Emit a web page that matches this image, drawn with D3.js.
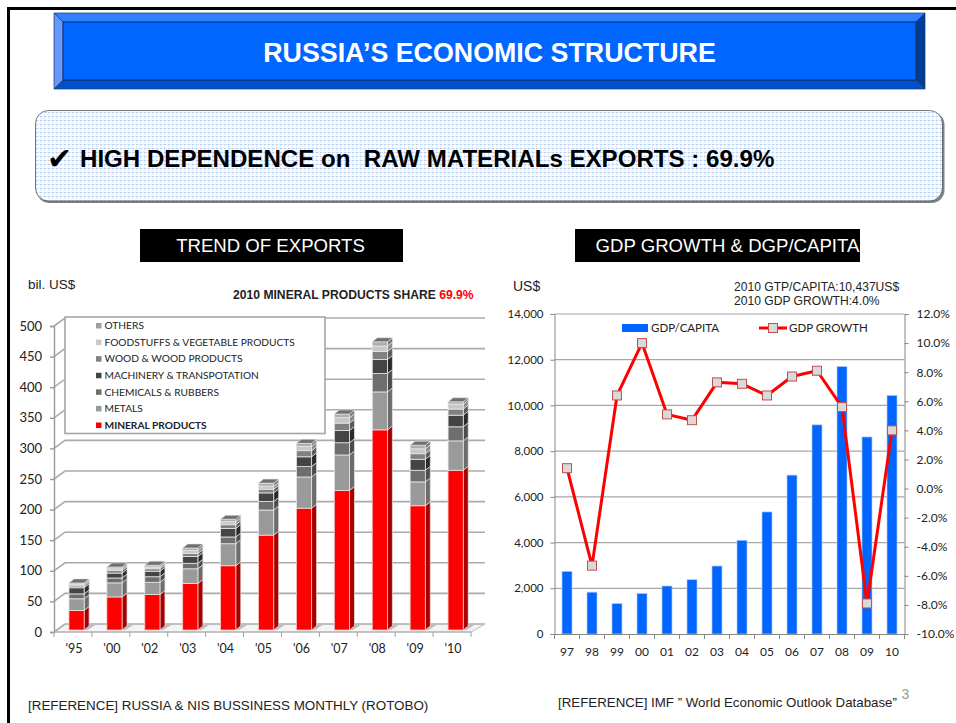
<!DOCTYPE html>
<html>
<head>
<meta charset="utf-8">
<script src="https://d3js.org/d3.v7.min.js"></script>
<style>
body { margin: 0; background: #fff; }
svg { display: block; }
text { font-family: "Liberation Sans", Arial, sans-serif; }
.cal text, text.cal { font-family: Lato, "Open Sans", sans-serif; }
</style>
</head>
<body>
<div id="chart"></div>
<script>
const svgWidth = 956;
const svgHeight = 723;

// left chart data (bil. US$)
const exportYears = ["'95", "'00", "'02", "'03", "'04", "'05", "'06", "'07", "'08", "'09", "'10"];
const mineral = [32, 54, 58, 76, 105, 155, 199, 228, 327, 203, 261];
const metals = [19, 23, 20, 24, 36, 41, 51, 58, 62, 39, 48];
const chemicals = [8, 8, 9, 9, 11, 14, 17, 20, 30, 19, 23];
const machinery = [10, 8, 9, 11, 14, 14, 16, 20, 23, 18, 19];
const wood = [3, 4, 4, 5, 6, 6, 10, 12, 13, 9, 10];
const food = [3, 3, 3, 5, 5, 5, 7, 9, 9, 8, 8];
const others = [2, 3, 3, 4, 4, 5, 5, 6, 7, 6, 4];
const exportTicks = [0, 50, 100, 150, 200, 250, 300, 350, 400, 450, 500];

const legendNames = ["OTHERS", "FOODSTUFFS & VEGETABLE PRODUCTS", "WOOD & WOOD PRODUCTS", "MACHINERY & TRANSPOTATION", "CHEMICALS & RUBBERS", "METALS", "MINERAL PRODUCTS"];

// right chart data
const gdpYears = ["97", "98", "99", "00", "01", "02", "03", "04", "05", "06", "07", "08", "09", "10"];
const gdpCapita = [2740, 1830, 1330, 1770, 2100, 2375, 2975, 4100, 5340, 6950, 9150, 11700, 8620, 10437];
const gdpGrowth = [1.4, -5.3, 6.4, 10.0, 5.1, 4.7, 7.3, 7.2, 6.4, 7.7, 8.1, 5.6, -7.9, 4.0];

const svg = d3.select("#chart").append("svg")
  .attr("width", svgWidth)
  .attr("height", svgHeight);

// dotted fill of the banner
const defs = svg.append("defs");
const dots = defs.append("pattern")
  .attr("id", "dots")
  .attr("width", 4).attr("height", 4)
  .attr("patternUnits", "userSpaceOnUse");
dots.append("rect").attr("width", 4).attr("height", 4).attr("fill", "#fbfdff");
dots.append("rect").attr("width", 4).attr("height", 1).attr("fill", "#e6effc");
dots.append("rect").attr("width", 1).attr("height", 4).attr("fill", "#e6effc");
dots.append("rect").attr("width", 2).attr("height", 1).attr("fill", "#b9d1f5");

// slide frame
svg.append("path").attr("d", "M8.5,723V8.5H956").attr("fill", "none").attr("stroke", "#000").attr("stroke-width", 3);

// title bar with bevel
const tb = { x0: 54, y0: 13, x1: 925, y1: 89, b: 9 };
const bevel = [
  [[tb.x0, tb.y0], [tb.x1, tb.y0], [tb.x1 - tb.b, tb.y0 + tb.b], [tb.x0 + tb.b, tb.y0 + tb.b], "#3380ff"],
  [[tb.x0, tb.y0], [tb.x0 + tb.b, tb.y0 + tb.b], [tb.x0 + tb.b, tb.y1 - tb.b], [tb.x0, tb.y1], "#6699ff"],
  [[tb.x0, tb.y1], [tb.x0 + tb.b, tb.y1 - tb.b], [tb.x1 - tb.b, tb.y1 - tb.b], [tb.x1, tb.y1], "#0052cc"],
  [[tb.x1, tb.y0], [tb.x1 - tb.b, tb.y0 + tb.b], [tb.x1 - tb.b, tb.y1 - tb.b], [tb.x1, tb.y1], "#003d99"]
];
svg.selectAll("path.bevel").data(bevel).join("path")
  .attr("class", "bevel")
  .attr("d", d => "M" + d.slice(0, 4).join("L") + "Z")
  .attr("fill", d => d[4])
  .attr("stroke", "#1c3a66").attr("stroke-width", 0.7);
svg.append("rect")
  .attr("x", tb.x0 + tb.b).attr("y", tb.y0 + tb.b)
  .attr("width", tb.x1 - tb.x0 - 2 * tb.b).attr("height", tb.y1 - tb.y0 - 2 * tb.b)
  .attr("fill", "#0066ff").attr("stroke", "#0a2a5e").attr("stroke-width", 0.8);
svg.append("text").attr("x", 489.5).attr("y", 61.5)
  .attr("text-anchor", "middle").attr("fill", "#fff")
  .attr("font-size", 26.8).attr("font-weight", "bold")
  .text("RUSSIA\u2019S ECONOMIC STRUCTURE");

// banner
svg.append("rect").attr("x", 36.5).attr("y", 112).attr("width", 908).attr("height", 91)
  .attr("rx", 13).attr("fill", "#808080");
svg.append("rect").attr("x", 35.5).attr("y", 110.5).attr("width", 907).attr("height", 90.5)
  .attr("rx", 13).attr("fill", "url(#dots)").attr("stroke", "#555").attr("stroke-width", 0.8);
svg.append("text").attr("x", 47).attr("y", 169)
  .attr("font-size", 30).attr("font-weight", "bold").attr("fill", "#000")
  .style("font-family", "'DejaVu Sans'")
  .text("\u2714");
svg.append("text").attr("x", 80).attr("y", 167)
  .attr("font-size", 24.1).attr("font-weight", "bold").attr("fill", "#000")
  .attr("xml:space", "preserve").style("white-space", "pre")
  .text("HIGH DEPENDENCE on  RAW MATERIALs EXPORTS : 69.9%");

// black heading boxes
const heads = [
  { x: 140, w: 263, tx: 270.5, t: "TREND OF EXPORTS" },
  { x: 575, w: 285, tx: 727.5, t: "GDP GROWTH & DGP/CAPITA" }
];
heads.forEach(h => {
  svg.append("rect").attr("x", h.x).attr("y", 229).attr("width", h.w).attr("height", 33).attr("fill", "#000");
  svg.append("text").attr("x", h.tx).attr("y", 252)
    .attr("text-anchor", "middle").attr("fill", "#fff").attr("font-size", 18.6).text(h.t);
});

// ---------- left chart: stacked 3D columns ----------
const depthX = 11, depthY = 8;
const barDX = 5, barDY = 4;
const gridColor = "#aaaaaa";

const xExp = d3.scaleBand().domain(exportYears).range([54, 471]).paddingInner(0.6).paddingOuter(0.3);
const yExp = d3.scaleLinear().domain([0, 500]).range([632, 326]);

const left = svg.append("g");

// floor
left.append("path")
  .attr("d", `M54,632L${54 + depthX},${632 - depthY}H${471 + 14}L471,632Z`)
  .attr("fill", "#f4f4f4").attr("stroke", "none");
left.selectAll("path.shadow").data(exportYears).join("path")
  .attr("class", "shadow")
  .attr("d", d => {
    const x = xExp(d) + 4;
    return `M${x},630L${x + 6},625H${x + 26}L${x + 18},630Z`;
  })
  .attr("fill", "#bdbdbd");

// walls: gridlines run up the side wall then along the back
left.selectAll("path.grid").data(exportTicks).join("path")
  .attr("class", "grid")
  .attr("d", d => `M54,${yExp(d)}L${54 + depthX},${yExp(d) - depthY}H485`)
  .attr("fill", "none").attr("stroke", gridColor).attr("stroke-width", 1.6);
left.append("path").attr("d", `M471,632L485,${632 - depthY}`).attr("fill", "none").attr("stroke", "#c8c8c8").attr("stroke-width", 1.4);

// stacked series, bottom first
const seriesNames = ["mineral", "metals", "chemicals", "machinery", "wood", "food", "others"];
const seriesValues = [mineral, metals, chemicals, machinery, wood, food, others];
const faceColors = ["#ff0000", "#9a9a9a", "#6e6e6e", "#444444", "#808080", "#c8c8c8", "#b0b0b0"];
const sideColors = ["#a80000", "#6c6c6c", "#4c4c4c", "#2a2a2a", "#5a5a5a", "#8c8c8c", "#7a7a7a"];
const topColor = "#707070";

const rows = exportYears.map((year, i) => {
  const row = { year };
  seriesNames.forEach((n, k) => { row[n] = seriesValues[k][i]; });
  return row;
});
const stacked = d3.stack().keys(seriesNames)(rows);
const bw = xExp.bandwidth();
const barX = d => xExp(d.data.year) + 3.6;
const barY = v => yExp(v) - 2;

stacked.forEach((layer, k) => {
  const g = left.append("g").attr("class", "layer-" + seriesNames[k]);
  g.selectAll("path.side").data(layer).join("path")
    .attr("class", "side")
    .attr("d", d => {
      const x = barX(d) + bw, a = barY(d[0]), b = barY(d[1]);
      return `M${x},${a}L${x + barDX},${a - barDY}V${b - barDY}L${x},${b}Z`;
    })
    .attr("fill", sideColors[k]).attr("stroke", "#e6e6e6").attr("stroke-width", 0.7);
  g.selectAll("rect").data(layer).join("rect")
    .attr("x", d => barX(d))
    .attr("y", d => barY(d[1]))
    .attr("width", bw)
    .attr("height", d => barY(d[0]) - barY(d[1]))
    .attr("fill", faceColors[k])
    .attr("stroke", k === 0 ? "#f3c4c4" : "#e6e6e6").attr("stroke-width", 0.8);
});
left.selectAll("path.top").data(stacked[stacked.length - 1]).join("path")
  .attr("class", "top")
  .attr("d", d => {
    const x = barX(d), b = barY(d[1]);
    return `M${x},${b}L${x + barDX},${b - barDY}H${x + bw + barDX}L${x + bw},${b}Z`;
  })
  .attr("fill", topColor).attr("stroke", "#e6e6e6").attr("stroke-width", 0.6);

// legend box
left.append("rect").attr("x", 65).attr("y", 317).attr("width", 260).attr("height", 116.5)
  .attr("fill", "#fff").attr("stroke", "#a6a6a6").attr("stroke-width", 1.6);
const legendColors = ["#a0a0a0", "#c8c8c8", "#808080", "#444444", "#6e6e6e", "#9a9a9a", "#ff0000"];
const yLegend = d3.scalePoint().domain(legendNames).range([325.5, 425]);
const legendG = left.append("g").attr("class", "cal");
legendG.selectAll("rect").data(legendNames).join("rect")
  .attr("x", 96).attr("y", d => yLegend(d) - 2.5).attr("width", 5.5).attr("height", 5.5)
  .attr("fill", (d, i) => legendColors[i]);
legendG.selectAll("text").data(legendNames).join("text")
  .attr("x", 104.5).attr("y", d => yLegend(d) + 3.8)
  .attr("font-size", 10.2)
  .attr("font-weight", (d, i) => i === 6 ? "bold" : "normal")
  .attr("fill", "#222")
  .text(d => d);

// axes
const leftAxis = left.append("g").attr("class", "cal")
  .attr("transform", "translate(54,0)")
  .call(d3.axisLeft(yExp).tickValues(exportTicks).tickSize(4).tickPadding(8));
leftAxis.selectAll("path,line").attr("stroke", "#999").attr("stroke-width", 1.4);
leftAxis.selectAll("text").attr("font-size", 13).attr("fill", "#222").style("font-family", "Lato");

left.append("path").attr("d", "M54,632H471").attr("stroke", "#b0b0b0").attr("stroke-width", 1.4);
left.selectAll("line.xtick").data(d3.range(0, exportYears.length + 1)).join("line")
  .attr("class", "xtick")
  .attr("x1", i => 54 + i * (417 / exportYears.length))
  .attr("x2", i => 54 + i * (417 / exportYears.length))
  .attr("y1", 632).attr("y2", 637)
  .attr("stroke", "#a0a0a0").attr("stroke-width", 1);
left.selectAll("text.xlab").data(exportYears).join("text")
  .attr("class", "xlab cal")
  .attr("x", d => xExp(d) + bw / 2 + 1)
  .attr("y", 653)
  .attr("text-anchor", "middle")
  .attr("font-size", 12.5).attr("fill", "#222")
  .text(d => d);

svg.append("text").attr("x", 28).attr("y", 289).attr("font-size", 13.5).attr("fill", "#222").text("bil. US$");
const share = svg.append("text").attr("x", 233).attr("y", 299).attr("font-size", 12.15).attr("font-weight", "bold").attr("fill", "#222");
share.append("tspan").text("2010 MINERAL PRODUCTS SHARE ");
share.append("tspan").attr("fill", "#ff0000").text("69.9%");

// ---------- right chart: bars and growth line ----------
const xGdp = d3.scaleBand().domain(gdpYears).range([554.5, 904.5]).paddingInner(0.6).paddingOuter(0.3);
const yGdp = d3.scaleLinear().domain([0, 14000]).range([634, 314]);
const yGrowth = d3.scaleLinear().domain([-10, 12]).range([634, 314]);

const right = svg.append("g");

right.selectAll("line.grid").data(d3.range(2000, 14001, 2000)).join("line")
  .attr("class", "grid")
  .attr("x1", 554.5).attr("x2", 904.5)
  .attr("y1", d => yGdp(d)).attr("y2", d => yGdp(d))
  .attr("stroke", "#a6a6a6").attr("stroke-width", 1.2);

right.selectAll("rect.gdp").data(gdpCapita).join("rect")
  .attr("class", "gdp")
  .attr("x", (d, i) => xGdp(gdpYears[i]))
  .attr("y", d => yGdp(d))
  .attr("width", xGdp.bandwidth())
  .attr("height", d => yGdp(0) - yGdp(d))
  .attr("fill", "#0066ff")
  .attr("stroke", "#a9c8f5").attr("stroke-width", 0.7);

const axisL = right.append("g").attr("transform", "translate(554.5,0)")
  .call(d3.axisLeft(yGdp).ticks(7).tickFormat(d3.format(",")).tickSize(4).tickPadding(7));
const axisR = right.append("g").attr("transform", "translate(904.5,0)")
  .call(d3.axisRight(yGrowth).tickValues(d3.range(-10, 12.1, 2)).tickFormat(d => d.toFixed(1) + "%").tickSize(4).tickPadding(8));
const axisB = right.append("g").attr("transform", "translate(0,634)")
  .call(d3.axisBottom(xGdp).tickSize(0).tickPadding(13));
[axisL, axisR, axisB].forEach(a => {
  a.selectAll("path,line").attr("stroke", "#868686").attr("stroke-width", 1);
  a.selectAll("text").attr("font-size", 12).attr("fill", "#222").style("font-family", "Lato");
});
axisL.selectAll("text").attr("font-size", 11.5);
right.selectAll("line.xtick").data(d3.range(0, gdpYears.length + 1)).join("line")
  .attr("class", "xtick")
  .attr("x1", i => 554.5 + i * 25).attr("x2", i => 554.5 + i * 25)
  .attr("y1", 634).attr("y2", 639)
  .attr("stroke", "#868686");

const line = d3.line()
  .x((d, i) => xGdp(gdpYears[i]) + xGdp.bandwidth() / 2)
  .y(d => yGrowth(d));
right.append("path").attr("d", line(gdpGrowth))
  .attr("fill", "none").attr("stroke", "#ff0000").attr("stroke-width", 3).attr("stroke-linejoin", "round");
right.selectAll("rect.mark").data(gdpGrowth).join("rect")
  .attr("class", "mark")
  .attr("x", (d, i) => xGdp(gdpYears[i]) + xGdp.bandwidth() / 2 - 4.5)
  .attr("y", d => yGrowth(d) - 4.5)
  .attr("width", 9).attr("height", 9)
  .attr("fill", "#d9d9d9").attr("stroke", "#c0504d").attr("stroke-width", 1);

// right legend
right.append("rect").attr("x", 622).attr("y", 324).attr("width", 26).attr("height", 8).attr("fill", "#0066ff");
right.append("line").attr("x1", 759).attr("x2", 787).attr("y1", 328).attr("y2", 328).attr("stroke", "#ff0000").attr("stroke-width", 3);
right.append("rect").attr("x", 768.5).attr("y", 323.5).attr("width", 9).attr("height", 9).attr("fill", "#d9d9d9").attr("stroke", "#c0504d");
right.append("text").attr("class", "cal").attr("x", 651).attr("y", 332).attr("font-size", 11.5).attr("fill", "#222").text("GDP/CAPITA");
right.append("text").attr("class", "cal").attr("x", 789).attr("y", 332).attr("font-size", 11.5).attr("fill", "#222").text("GDP GROWTH");

svg.append("text").attr("x", 513).attr("y", 291).attr("font-size", 14).attr("fill", "#222").text("US$");
svg.append("text").attr("x", 734).attr("y", 291).attr("font-size", 12.1).attr("fill", "#222").text("2010 GTP/CAPITA:10,437US$");
svg.append("text").attr("x", 734).attr("y", 305).attr("font-size", 12.1).attr("fill", "#222").text("2010 GDP GROWTH:4.0%");

// footers
svg.append("text").attr("x", 28).attr("y", 710).attr("font-size", 13.4).attr("fill", "#222").text("[REFERENCE] RUSSIA & NIS BUSSINESS MONTHLY (ROTOBO)");
svg.append("text").attr("x", 558).attr("y", 707).attr("font-size", 13.3).attr("fill", "#222").text("[REFERENCE] IMF \u201D World Economic Outlook Database\u201D");
svg.append("text").attr("x", 901.5).attr("y", 699).attr("font-size", 14).attr("fill", "#999").text("3");
</script>
</body>
</html>
